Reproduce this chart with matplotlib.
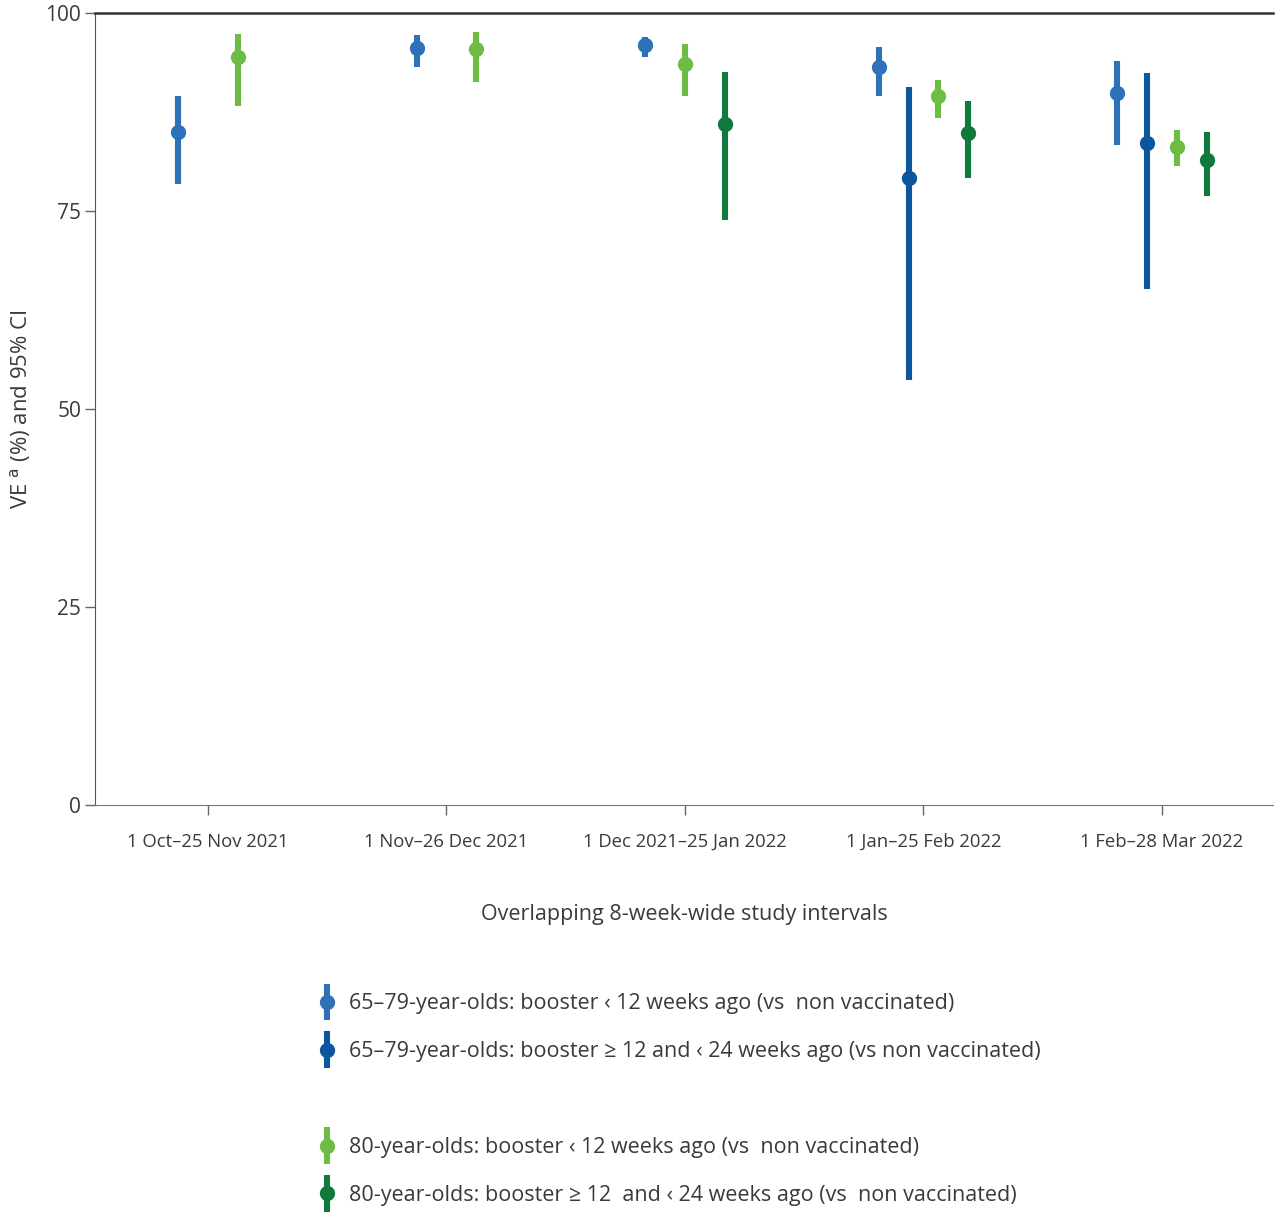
import matplotlib.pyplot as plt
from matplotlib.lines import Line2D
from matplotlib.legend_handler import HandlerBase
import numpy as np

plt.rcParams['font.family'] = ['Open Sans', 'DejaVu Sans']

intervals = ['1 Oct\u201325 Nov 2021', '1 Nov\u201326 Dec 2021',
             '1 Dec 2021\u201325 Jan 2022', '1 Jan\u201325 Feb 2022',
             '1 Feb\u201328 Mar 2022']

series_labels = [
    '65\u201379-year-olds: booster \u2039 12 weeks ago (vs  non vaccinated)',
    '65\u201379-year-olds: booster \u2265 12 and \u2039 24 weeks ago (vs non vaccinated)',
    '80-year-olds: booster \u2039 12 weeks ago (vs  non vaccinated)',
    '80-year-olds: booster \u2265 12  and \u2039 24 weeks ago (vs  non vaccinated)',
]
colors = ['#2e71b8', '#0b569f', '#6dbd45', '#0f7a3b']

# VE point estimates and 95% CI bounds per interval (None = not estimated)
ve_young_recent = [85.0, 95.6, 95.9, 93.2, 89.9]
lo_young_recent = [78.4, 93.2, 94.4, 89.5, 83.3]
hi_young_recent = [89.5, 97.2, 97.0, 95.7, 93.9]

ve_young_older = [None, None, None, 79.2, 83.6]
lo_young_older = [None, None, None, 53.6, 65.2]
hi_young_older = [None, None, None, 90.6, 92.4]

ve_old_recent = [94.4, 95.5, 93.6, 89.5, 83.1]
lo_old_recent = [88.3, 91.3, 89.5, 86.8, 80.7]
hi_old_recent = [97.3, 97.6, 96.1, 91.6, 85.2]

ve_old_older = [None, None, 86.0, 84.8, 81.4]
lo_old_older = [None, None, 73.9, 79.2, 76.9]
hi_old_older = [None, None, 92.5, 88.9, 85.0]

series = [
    (ve_young_recent, lo_young_recent, hi_young_recent),
    (ve_young_older, lo_young_older, hi_young_older),
    (ve_old_recent, lo_old_recent, hi_old_recent),
    (ve_old_older, lo_old_older, hi_old_older),
]


class HandlerCIBar(HandlerBase):
    """Legend key: vertical CI bar with the point estimate on top."""

    def create_artists(self, legend, orig_handle, xdescent, ydescent,
                       width, height, fontsize, trans):
        c = orig_handle.get_color()
        xc = width / 2 - xdescent
        yc = height / 2 - ydescent
        if c == 'none':
            # spacer row between the two age groups
            return [Line2D([xc], [yc], linestyle='none', transform=trans)]
        half = 0.85 * fontsize
        bar = Line2D([xc, xc], [yc - half, yc + half], color=c, lw=4.4,
                     solid_capstyle='butt', transform=trans)
        dot = Line2D([xc], [yc], marker='o', ms=10, color=c,
                     linestyle='none', transform=trans)
        return [bar, dot]


text_color = '#3a3a3a'
fig = plt.figure(figsize=(12.75, 12.12), dpi=100)
ax = fig.add_axes([95 / 1275, 1 - 805 / 1212, (1273 - 95) / 1275, (805 - 13) / 1212])

group_width = 0.5
for g in range(len(intervals)):
    present = [s for s in range(len(series)) if series[s][0][g] is not None]
    n = len(present)
    for k, s in enumerate(present):
        ve, lo, hi = series[s]
        x = g + (k - (n - 1) / 2) * group_width / n
        ax.plot([x, x], [lo[g], hi[g]], color=colors[s], lw=4.4,
                solid_capstyle='butt', zorder=2)
        ax.plot(x, ve[g], 'o', color=colors[s], ms=10, zorder=3)

ax.set_xlim(-0.474, 4.466)
ax.set_ylim(0, 100)
ax.set_yticks([0, 25, 50, 75, 100])
ax.set_xticks(range(len(intervals)))
ax.set_xticklabels(intervals)
ax.tick_params(axis='x', length=7, width=1, color='#666666', pad=13,
               labelsize=13.3, labelcolor=text_color)
ax.tick_params(axis='y', length=7, width=1, color='#666666', pad=3,
               labelsize=15, labelcolor=text_color)

ax.spines['right'].set_visible(False)
ax.spines['top'].set_color('#333333')
ax.spines['top'].set_linewidth(1.8)
ax.spines['left'].set_color('#555555')
ax.spines['bottom'].set_color('#777777')

ax.set_ylabel('VE $^{\\mathrm{a}}$ (%) and 95% CI', fontsize=16, color=text_color, labelpad=9)
ax.set_xlabel('Overlapping 8-week-wide study intervals', fontsize=15.5,
              color=text_color, labelpad=38)

# legend: two groups separated by a blank row
keys = [Line2D([], [], color=c) for c in colors]
blank = Line2D([], [], color='none', linestyle='none')
leg_handles = [keys[0], keys[1], blank, keys[2], keys[3]]
leg_labels = [series_labels[0], series_labels[1], '', series_labels[2], series_labels[3]]
fig.legend(leg_handles, leg_labels, loc='upper left',
           bbox_to_anchor=(297 / 1275, 1 - 974 / 1212),
           handler_map={Line2D: HandlerCIBar()},
           frameon=False, fontsize=15.5, labelcolor=text_color,
           handlelength=1.0, handletextpad=0.5, labelspacing=1.25)

fig.savefig('out.png', dpi=100)
